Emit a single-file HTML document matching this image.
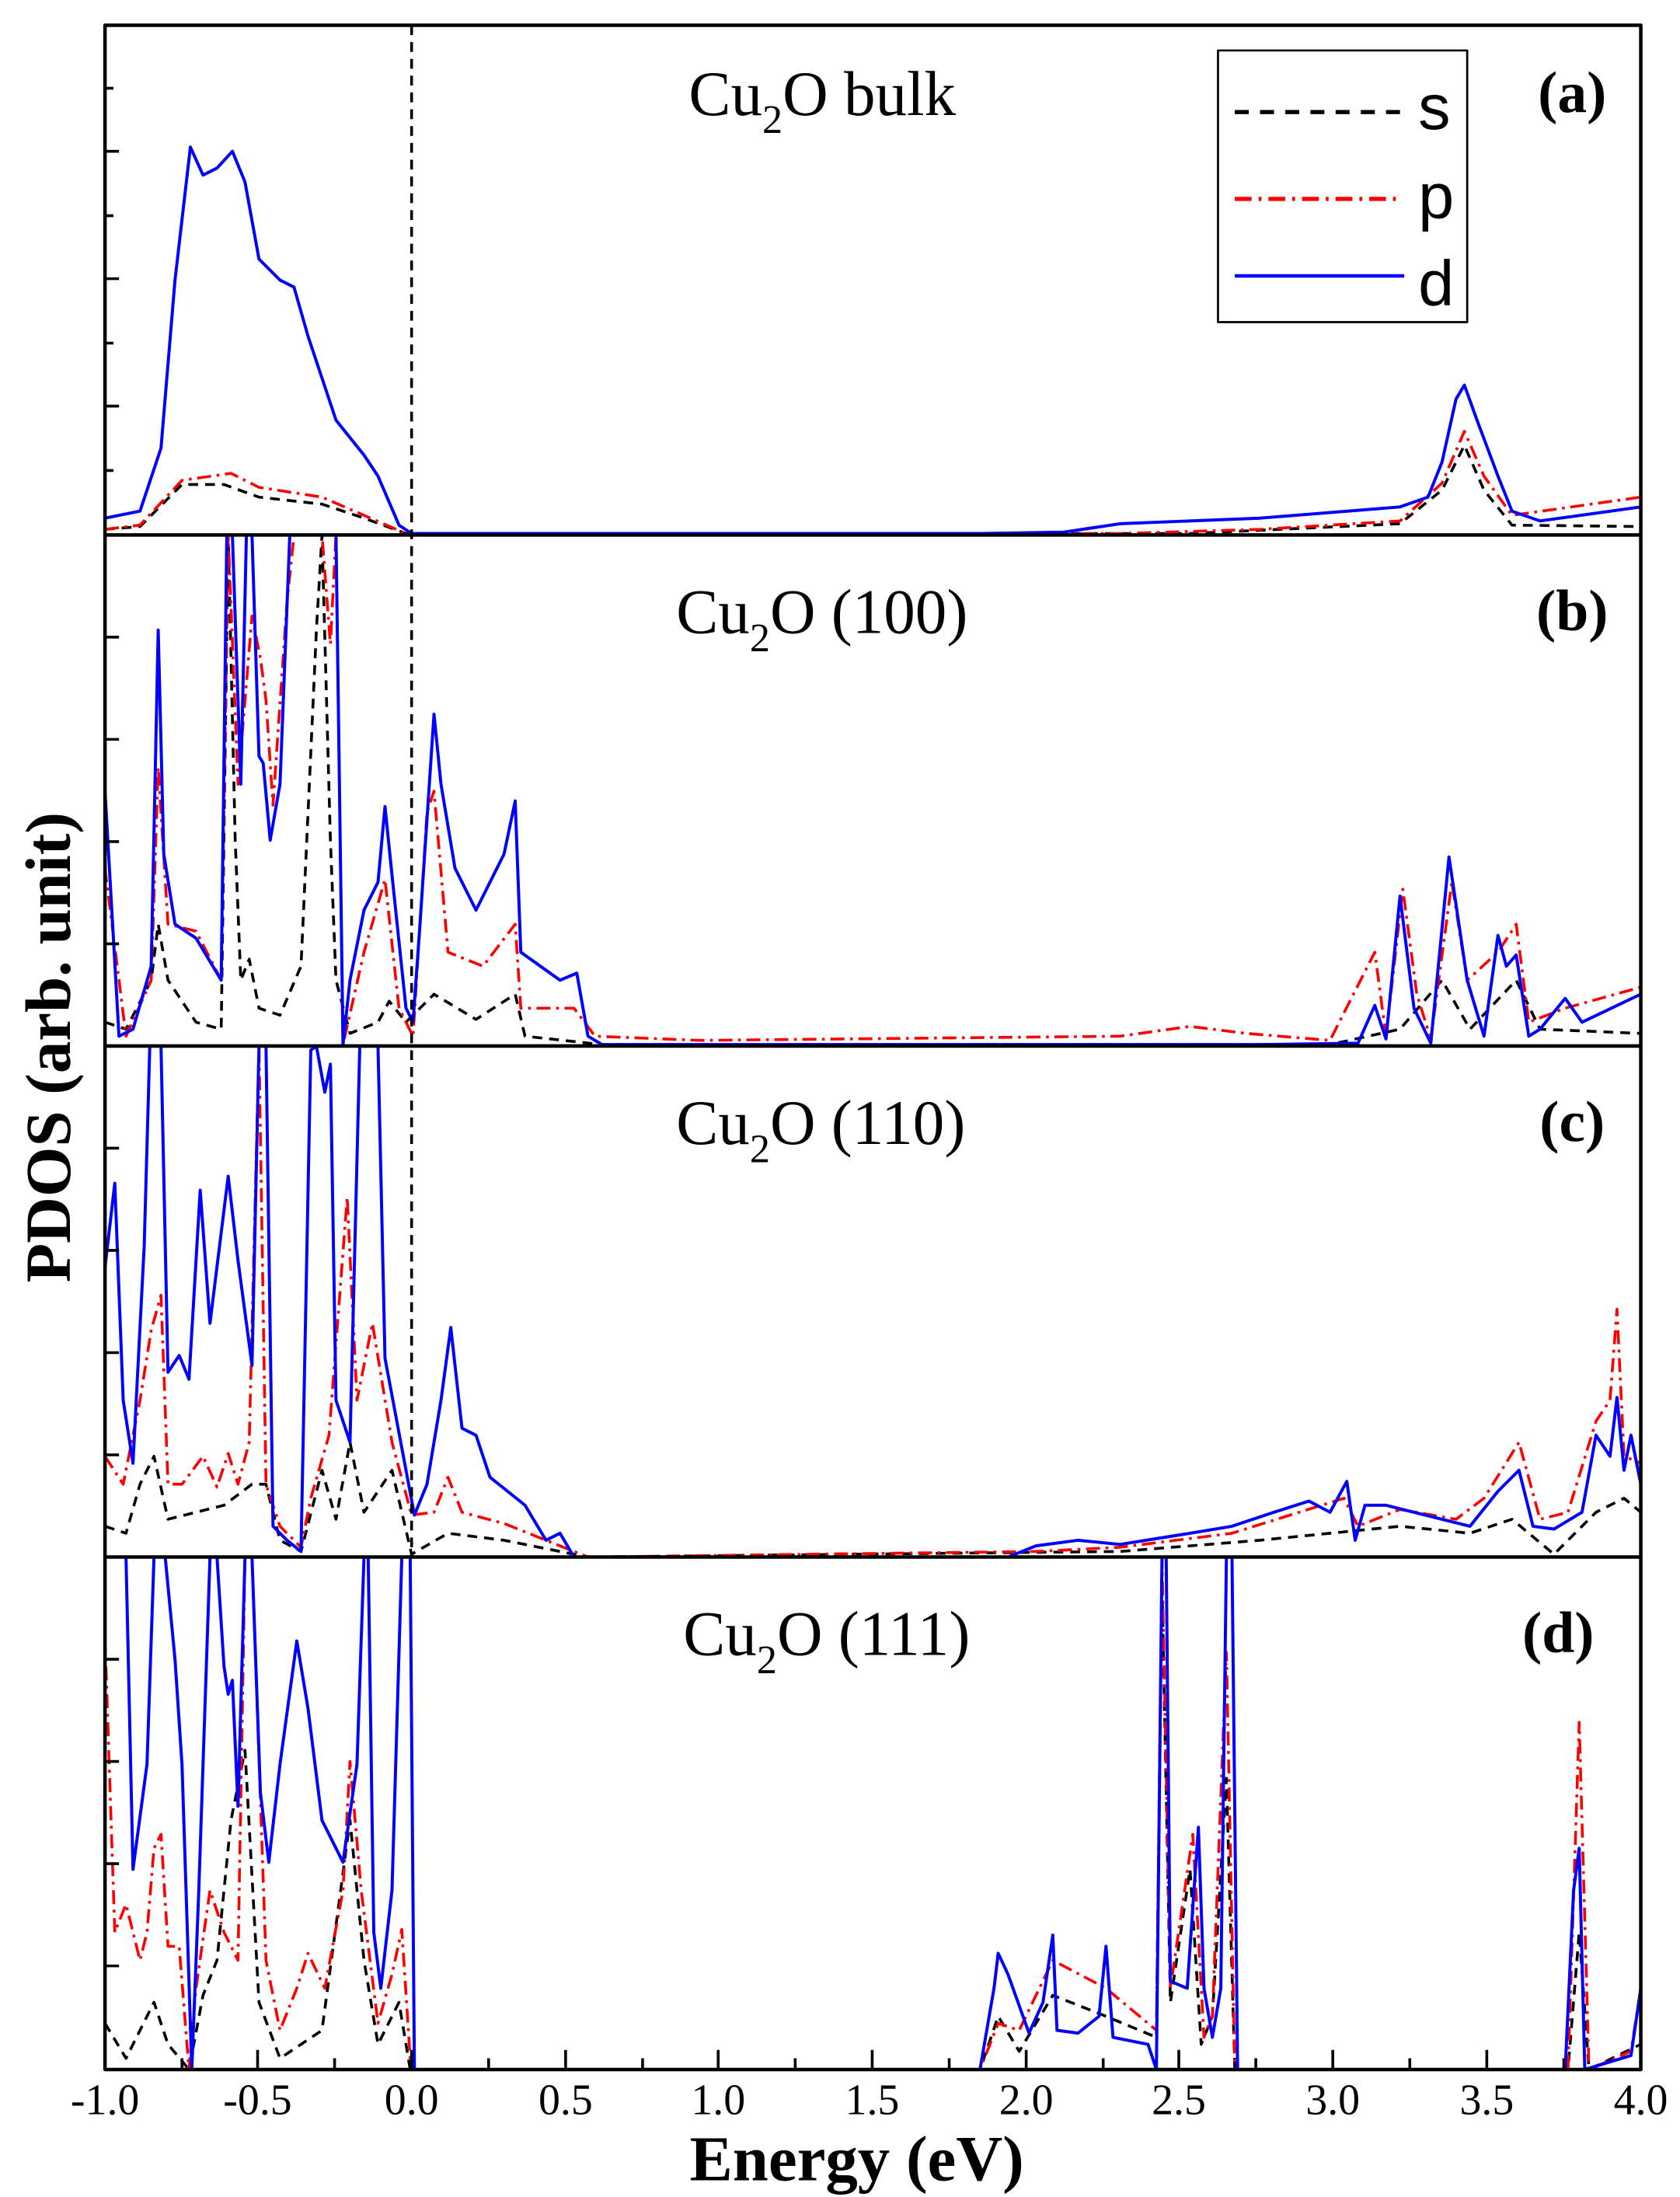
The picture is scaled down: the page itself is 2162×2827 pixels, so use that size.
<!DOCTYPE html>
<html><head><meta charset="utf-8"><style>html,body{margin:0;padding:0;background:#fff}svg{display:block}</style></head><body>
<svg xmlns="http://www.w3.org/2000/svg" width="2162" height="2827" viewBox="0 0 1200 1569" font-family="'Liberation Serif',serif">
<defs>
<clipPath id="ca"><rect x="75" y="18" width="1097" height="364"/></clipPath>
<clipPath id="cb"><rect x="75" y="382" width="1097" height="365"/></clipPath>
<clipPath id="cc"><rect x="75" y="747" width="1097" height="365"/></clipPath>
<clipPath id="cd"><rect x="75" y="1112" width="1097" height="366"/></clipPath>
</defs>
<g fill="none" stroke-linejoin="round">
<g clip-path="url(#ca)">
<polyline stroke="#000" stroke-width="2" stroke-dasharray="7,5" points="75,378 100,376 130,346 160,346 185,355 230,360 260,370 290,381 850,381 1000,374 1030,350 1046,318 1060,350 1080,375 1172,376"/>
<polyline stroke="#f00" stroke-width="2" stroke-dasharray="10,4,2,4" points="75,378 100,375 130,343 165,338 185,348 230,355 260,368 290,381 800,381 900,378 1000,372 1030,345 1046,308 1060,340 1080,368 1172,355"/>
<polyline stroke="#00f" stroke-width="2.2" points="75,370 100,365 115,320 125,200 136,105 145,125 155,120 166,108 175,130 185,185 200,200 210,205 220,240 240,300 260,325 270,340 285,375 294,381 700,381 760,380 800,374 900,370 1000,362 1020,355 1030,330 1040,285 1046,275 1055,300 1070,340 1080,365 1100,372 1172,362"/>
</g>
<g clip-path="url(#cb)">
<polyline stroke="#000" stroke-width="2" stroke-dasharray="7,5" points="75,730 90,735 108,700 113,660 120,700 140,730 158,735 163,382 168,600 172,700 178,685 185,720 200,725 215,690 226,450 230,382 236,600 240,700 250,738 270,730 278,715 290,730 310,710 340,728 368,710 375,740 430,746 950,746 1000,735 1030,700 1050,735 1083,700 1100,735 1172,738"/>
<polyline stroke="#f00" stroke-width="2" stroke-dasharray="10,4,2,4" points="75,620 90,740 108,700 113,548 120,660 140,665 158,700 163,382 170,560 180,440 186,470 190,500 195,575 205,430 210,382 230,382 236,460 240,382 245,746 260,680 275,628 285,720 295,740 305,580 310,565 320,680 345,690 368,660 372,720 410,720 425,740 500,743 800,740 850,733 890,738 950,743 982,680 990,740 1002,635 1012,710 1022,742 1037,630 1048,700 1070,680 1083,660 1092,730 1118,720 1172,705"/>
<polyline stroke="#00f" stroke-width="2.2" points="75,565 85,740 95,735 108,690 113,450 117,610 125,660 140,670 158,700 162,382 166,382 172,560 176,382 180,382 185,540 188,545 193,600 200,560 207,382 240,382 245,746 250,700 260,650 270,630 275,576 280,625 290,720 295,730 300,660 310,510 315,560 325,620 340,650 360,610 368,572 372,680 400,700 412,695 420,740 430,746 900,746 970,745 982,718 990,742 1000,640 1010,720 1022,745 1035,612 1048,700 1060,740 1070,668 1076,690 1083,682 1092,740 1100,735 1118,713 1130,730 1172,710"/>
</g>
<g clip-path="url(#cc)">
<polyline stroke="#000" stroke-width="2" stroke-dasharray="7,5" points="75,1090 90,1095 100,1060 110,1040 120,1085 140,1080 160,1075 180,1060 190,1060 200,1100 215,1108 230,1050 240,1085 250,1030 260,1080 280,1050 294,1110 320,1095 360,1100 420,1112 800,1108 900,1100 950,1095 1000,1090 1050,1095 1080,1085 1110,1110 1140,1080 1160,1070 1172,1080"/>
<polyline stroke="#f00" stroke-width="2" stroke-dasharray="10,4,2,4" points="75,1040 88,1060 100,1000 108,950 115,925 120,1060 130,1060 145,1040 155,1062 163,1038 170,1060 178,1030 185,747 190,1060 200,1090 215,1105 222,1070 235,1025 248,855 255,1000 266,945 280,1030 294,1082 310,1080 320,1055 330,1080 360,1088 390,1100 420,1112 740,1108 800,1105 880,1095 960,1070 970,1090 1000,1078 1040,1085 1060,1070 1085,1030 1100,1085 1120,1080 1140,1015 1150,1000 1155,935 1160,1040 1172,1045"/>
<polyline stroke="#00f" stroke-width="2.2" points="75,905 82,845 88,1000 95,1045 103,890 107,747 115,747 120,980 128,968 135,985 143,850 150,945 163,840 170,900 180,975 185,747 190,747 195,1090 205,1100 215,1108 222,750 226,747 232,780 236,760 240,1000 250,1030 257,747 270,747 275,970 290,1050 296,1082 305,1060 315,1000 322,948 330,1020 340,1025 350,1055 375,1075 390,1100 400,1095 410,1112 720,1112 740,1104 770,1100 800,1103 850,1095 880,1090 910,1080 935,1072 950,1080 962,1058 968,1100 975,1075 990,1075 1010,1080 1030,1085 1050,1090 1070,1065 1085,1050 1095,1090 1110,1092 1130,1080 1140,1025 1150,1040 1155,998 1160,1050 1165,1025 1172,1060"/>
</g>
<g clip-path="url(#cd)">
<polyline stroke="#000" stroke-width="2" stroke-dasharray="7,5" points="75,1445 90,1470 110,1430 120,1460 135,1478 145,1425 155,1400 165,1300 175,1250 185,1430 200,1470 230,1450 250,1300 260,1400 270,1460 285,1430 293,1478 700,1478 713,1440 728,1465 752,1425 790,1440 826,1455 830,1130 836,1430 850,1335 858,1460 866,1440 876,1270 882,1478 1120,1478 1128,1380 1135,1478 1172,1460"/>
<polyline stroke="#f00" stroke-width="2" stroke-dasharray="10,4,2,4" points="75,1170 82,1380 90,1360 100,1400 105,1380 110,1320 115,1310 120,1390 128,1390 135,1478 140,1420 150,1350 160,1380 170,1400 175,1112 180,1112 190,1400 200,1450 212,1420 220,1395 232,1420 245,1350 250,1258 258,1350 270,1445 280,1410 287,1378 293,1470 296,1478 700,1478 713,1445 728,1450 752,1400 790,1420 826,1450 830,1112 836,1420 852,1310 860,1455 866,1440 876,1180 882,1478 1120,1478 1128,1230 1135,1478 1165,1465 1172,1420"/>
<polyline stroke="#00f" stroke-width="2.2" points="90,1112 95,1335 105,1260 110,1112 118,1112 125,1185 130,1260 137,1478 142,1350 150,1112 155,1112 160,1190 163,1210 166,1200 170,1290 175,1112 180,1112 186,1280 192,1330 200,1260 212,1172 220,1220 230,1300 245,1330 255,1260 260,1112 263,1112 267,1380 272,1420 280,1350 287,1112 293,1112 296,1478 700,1478 710,1420 713,1395 720,1410 735,1452 745,1430 752,1382 755,1450 770,1452 785,1440 790,1390 795,1455 820,1460 826,1478 830,1112 833,1112 836,1415 848,1420 856,1305 860,1420 866,1455 872,1420 876,1112 880,1112 884,1478 1118,1478 1124,1350 1128,1320 1132,1478 1165,1468 1172,1420"/>
</g>
<line x1="294" y1="18" x2="294" y2="1112" stroke="#000" stroke-width="2" stroke-dasharray="7,5"/>
<g stroke="#000" stroke-width="2.5">
<rect x="75" y="18" width="1097" height="1460"/>
<line x1="75" y1="382" x2="1172" y2="382"/>
<line x1="75" y1="747" x2="1172" y2="747"/>
<line x1="75" y1="1112" x2="1172" y2="1112"/>
</g>
<g stroke="#000" stroke-width="2">
<path d="M75,108h10M75,199h10M75,290h10M75,63h6M75,154h6M75,245h6M75,336h6"/>
<path d="M75,455h10M75,528h10M75,601h10M75,674h10"/>
<path d="M75,820h10M75,893h10M75,966h10M75,1039h10"/>
<path d="M75,1185h10M75,1258h10M75,1331h10M75,1404h10"/>
<path d="M294,1478v-14M513,1478v-14M733,1478v-14M952,1478v-14M184,1478v-14M404,1478v-14M623,1478v-14M842,1478v-14M1062,1478v-14"/>
<path d="M130,1478v-8M239,1478v-8M349,1478v-8M459,1478v-8M568,1478v-8M678,1478v-8M788,1478v-8M897,1478v-8M1007,1478v-8M1117,1478v-8"/>
</g>
<rect x="870" y="36" width="178" height="194" stroke="#000" stroke-width="1.5"/>
<line x1="882" y1="80" x2="1000" y2="80" stroke="#000" stroke-width="3" stroke-dasharray="10,8"/>
<line x1="882" y1="142" x2="1000" y2="142" stroke="#f00" stroke-width="3" stroke-dasharray="12,5,2,5"/>
<line x1="882" y1="197" x2="1003" y2="197" stroke="#00f" stroke-width="2.5"/>
</g>
<g font-family="'Liberation Sans',sans-serif" font-size="46" fill="#000">
<text x="1013" y="92">s</text><text x="1013" y="156">p</text><text x="1013" y="218">d</text>
</g>
<g font-size="45" fill="#000">
<text x="492" y="82">Cu<tspan font-size="29" dy="13">2</tspan><tspan dy="-13">O bulk</tspan></text>
<text x="483" y="452">Cu<tspan font-size="29" dy="13">2</tspan><tspan dy="-13">O (100)</tspan></text>
<text x="483" y="817">Cu<tspan font-size="29" dy="13">2</tspan><tspan dy="-13">O (110)</tspan></text>
<text x="488" y="1182">Cu<tspan font-size="29" dy="13">2</tspan><tspan dy="-13">O (111)</tspan></text>
</g>
<g font-size="42" font-weight="bold" fill="#000" text-anchor="middle">
<text x="1123" y="80">(a)</text>
<text x="1123" y="450">(b)</text>
<text x="1123" y="815">(c)</text>
<text x="1113" y="1180">(d)</text>
</g>
<g font-size="31" fill="#000" text-anchor="middle">
<text x="75" y="1510">-1.0</text><text x="184" y="1510">-0.5</text><text x="294" y="1510">0.0</text><text x="404" y="1510">0.5</text><text x="513" y="1510">1.0</text><text x="623" y="1510">1.5</text><text x="733" y="1510">2.0</text><text x="842" y="1510">2.5</text><text x="952" y="1510">3.0</text><text x="1062" y="1510">3.5</text><text x="1172" y="1510">4.0</text>
</g>
<text x="612" y="1557" font-size="46" font-weight="bold" text-anchor="middle">Energy (eV)</text>
<text transform="translate(50,748) rotate(-90)" font-size="46" font-weight="bold" text-anchor="middle">PDOS (arb. unit)</text>
</svg>
</body></html>
